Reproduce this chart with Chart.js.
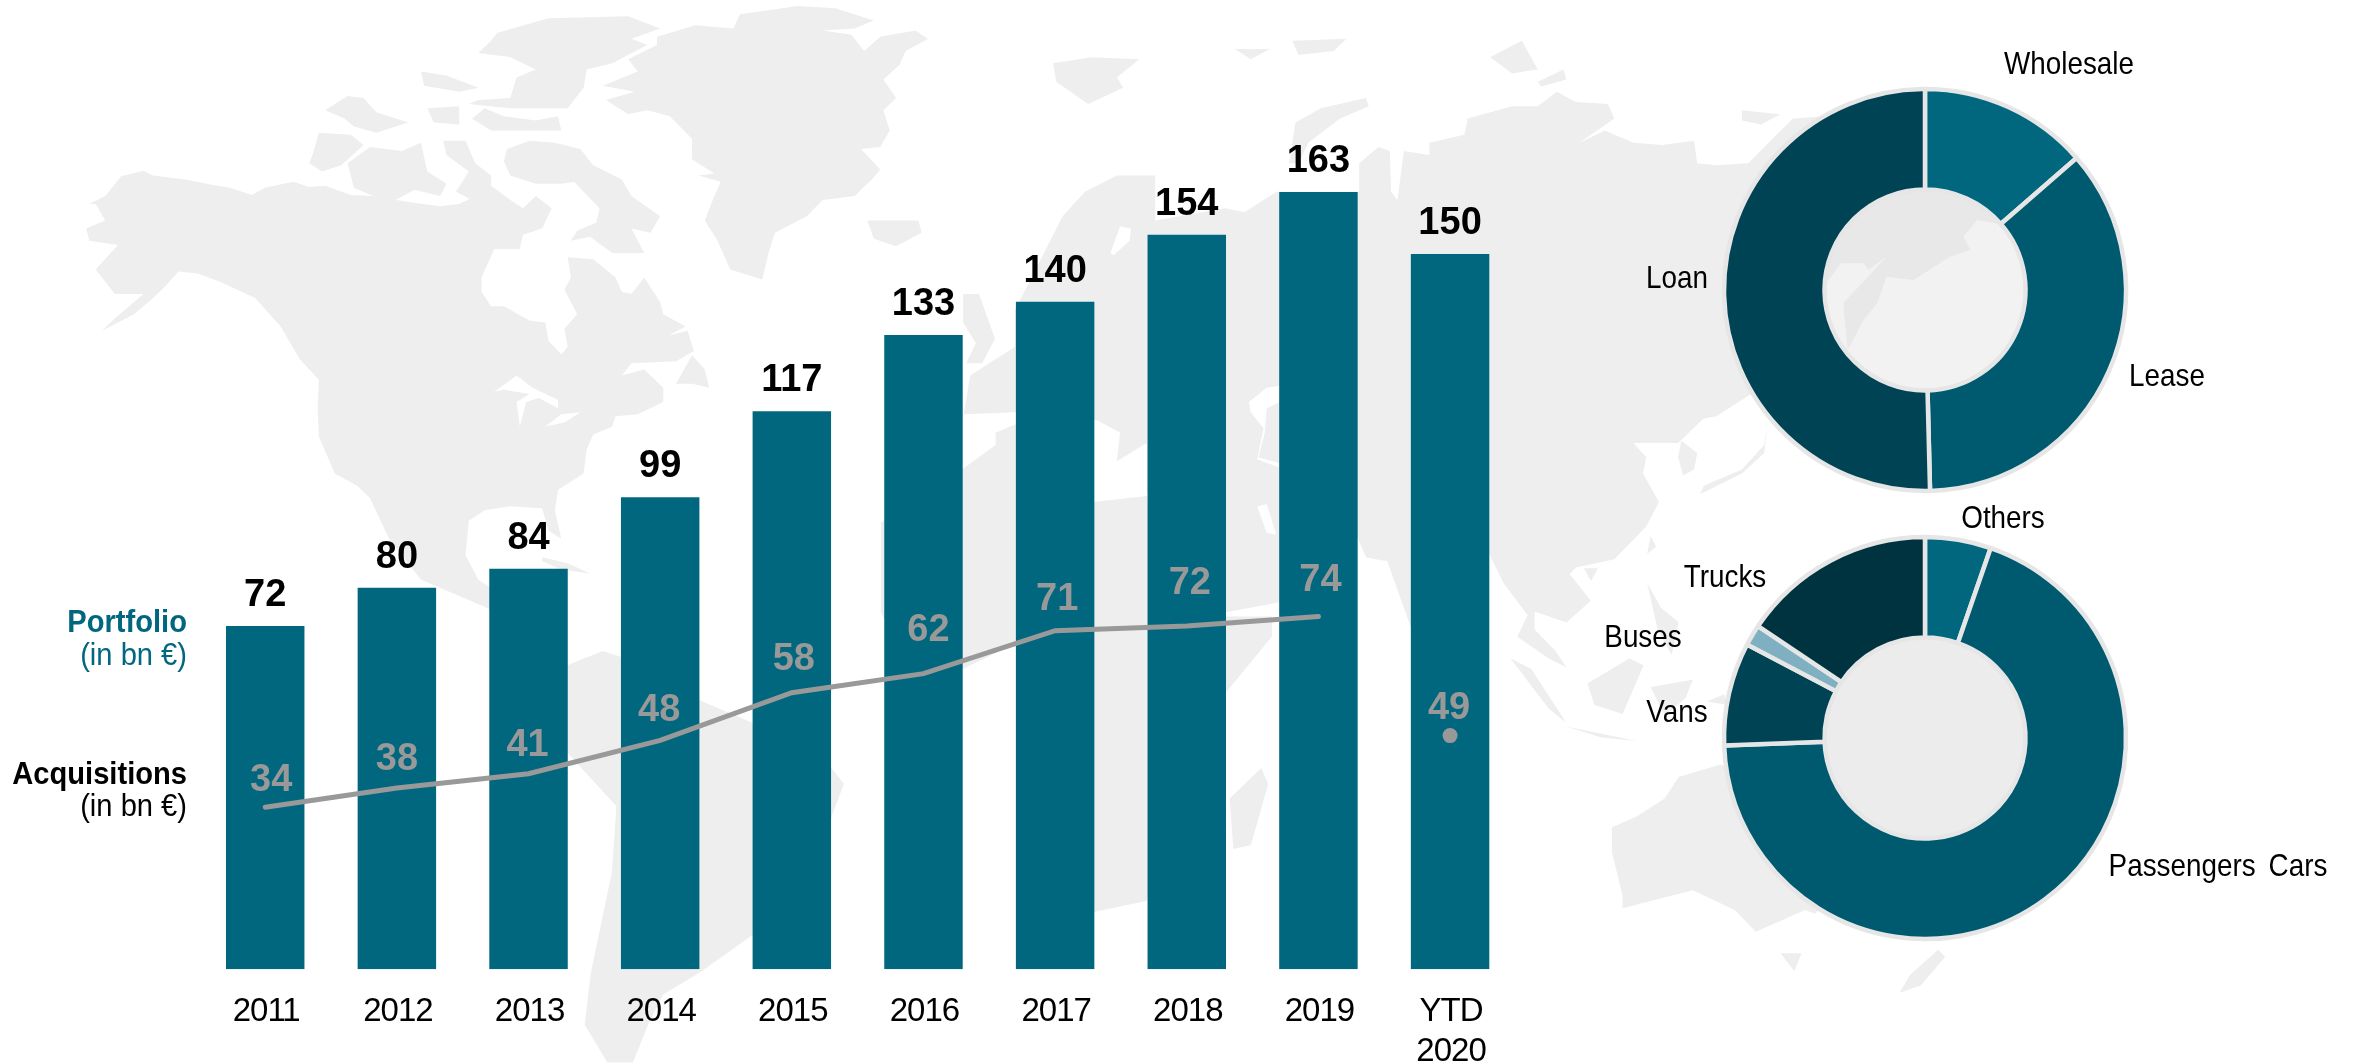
<!DOCTYPE html>
<html>
<head>
<meta charset="utf-8">
<script src="https://cdn.jsdelivr.net/npm/chart.js@4"></script>
<style>
    html, body { margin: 0; background: #fff; }
    body { width: 2363px; height: 1064px; position: relative; overflow: hidden; font-family: "Liberation Sans", sans-serif; }
    canvas, svg { position: absolute; left: 0; top: 0; }
    .txt { position: absolute; font-size: 32px; line-height: 32px; white-space: nowrap; color: #000; transform: translate(-50%, -50%) scaleX(0.87); }
    .right { transform: translate(-100%, -50%) scaleX(0.91); transform-origin: 100% 50%; }
    .b { font-weight: bold; }
    .teal { color: #00677f; }
    .gap { word-spacing: 6px; }
    .land polygon { fill: #eeeeee; }
    .water polygon { fill: #fff; }
</style>
</head>
<body>
<!-- world map behind the chart, only a rough outline -->
<svg width="2363" height="1064">
    <g class="land" transform="scale(0.6378,0.4082)">
        <polygon points="140,500 165,480 190,432 225,418 240,430 290,440 330,452 360,460 395,478 415,460 460,445 485,458 510,455 550,478 585,480 640,495 690,505 720,500 745,480 770,455 800,490 820,510 840,480 865,510 850,560 820,575 815,610 775,610 755,680 755,715 770,750 790,750 830,785 855,790 860,835 880,868 890,850 885,805 905,770 885,710 895,680 890,630 930,635 965,680 975,715 990,720 1010,680 1035,740 1040,770 1075,800 1048,822 1078,810 1088,860 1060,885 990,890 975,920 1010,905 1040,950 1040,985 1000,1015 965,1020 960,1045 930,1065 920,1100 915,1160 875,1200 870,1250 880,1320 860,1300 850,1245 800,1240 760,1250 735,1275 730,1360 750,1420 800,1470 880,1490 880,1568 735,1470 660,1420 610,1320 580,1220 560,1190 525,1160 500,1070 498,1000 500,930 470,880 440,800 400,730 345,690 310,670 280,665 260,700 240,730 210,770 160,810 180,780 225,720 180,720 150,660 185,600 140,590 135,560 165,540 150,500"/>
        <polygon points="795,365 830,345 870,350 910,365 930,405 975,440 990,480 1035,530 1020,570 990,560 1010,620 960,620 925,580 895,590 905,565 935,545 940,510 900,445 880,450 840,450 800,430 790,395"/>
        <polygon points="545,400 580,360 630,370 660,350 670,420 700,450 690,480 650,465 620,490 585,480 555,460"/>
        <polygon points="490,380 500,325 550,330 570,355 535,405 505,420 485,400"/>
        <polygon points="695,345 730,345 745,400 770,430 770,490 740,490 715,470 735,420 700,380"/>
        <polygon points="510,270 545,235 570,240 590,275 640,300 590,325 555,310 540,290"/>
        <polygon points="780,80 860,45 985,40 1035,70 990,95 1015,110 960,155 920,170 915,215 890,265 800,265 735,255 750,245 800,240 810,190 840,170 800,140 750,130 770,100"/>
        <polygon points="740,290 770,320 880,320 875,285 840,295 790,285 760,265"/>
        <polygon points="660,175 700,185 750,215 720,225 665,210"/>
        <polygon points="670,265 720,260 720,305 680,300"/>
        <polygon points="1030,90 1090,62 1150,70 1160,35 1250,15 1310,20 1370,50 1340,70 1290,75 1335,85 1355,125 1380,90 1435,75 1455,95 1420,125 1410,160 1385,195 1405,240 1385,270 1395,320 1380,360 1350,365 1380,415 1370,435 1340,480 1290,490 1265,530 1215,570 1205,620 1195,685 1145,660 1125,590 1105,540 1120,480 1130,445 1095,430 1120,425 1085,390 1085,340 1050,285 1015,270 985,280 950,245 995,225 945,210 1000,175 985,145 1030,110"/>
        <polygon points="1360,540 1440,540 1445,570 1405,603 1370,585"/>
        <polygon points="1060,940 1085,870 1105,905 1112,950 1085,940"/>
        <polygon points="850,1365 890,1380 925,1405 880,1395 850,1375"/>
        <polygon points="1510,720 1535,720 1560,830 1540,890 1515,890 1530,840 1510,790"/>
    </g>
    <g class="water" transform="scale(0.6378,0.4082)">
        <polygon points="775,960 810,920 835,950 875,980 875,1000 845,975 825,985 815,1045 810,985 830,965 790,955"/>
        <polygon points="855,1045 885,1035 910,1010 880,1015"/>
    </g>
    <g class="land" transform="translate(900,0) scale(0.6378,0.4082)">
        <polygon points="100,1015 110,920 150,880 180,850 180,760 255,530 290,470 340,430 400,430 400,540 510,510 540,520 590,470 720,470 720,400 750,360 768,370 770,470 780,490 790,370 830,380 830,350 885,330 890,290 960,260 1000,260 1030,225 1060,250 1110,255 1120,290 1065,350 1105,320 1150,350 1195,355 1245,345 1250,400 1280,405 1330,400 1400,290 1500,280 1440,500 1420,900 1340,960 1280,1020 1260,1025 1220,1085 1150,1085 1170,1120 1165,1160 1190,1230 1170,1290 1120,1370 1060,1390 1050,1406 1083,1472 1045,1525 995,1498 995,1542 1028,1595 1045,1635 1017,1613 968,1560 984,1507 946,1428 924,1357 800,1533 764,1375 731,1366 716,1313 593,1476 511,1500 450,1400 387,1205 387,1085 340,1130 345,1060 310,1030 180,1010"/>
        <polygon points="97,1150 150,1090 150,1060 180,1040 303,1120 303,1230 387,1215 510,1510 583,1510 583,1560 509,1700 386,2207 304,2234 290,2150 230,1800 180,1577 97,1640 0,1600 -30,1500 -30,1280"/>
        <polygon points="240,155 300,140 375,145 340,190 350,215 295,255 245,200"/>
        <polygon points="525,120 580,120 550,145"/>
        <polygon points="615,100 700,95 680,125 625,135"/>
        <polygon points="620,300 660,265 730,240 735,260 690,290 640,350 625,400 610,400"/>
        <polygon points="925,140 975,100 1000,170 960,180"/>
        <polygon points="1000,200 1040,170 1045,195 1005,212"/>
        <polygon points="1320,270 1380,280 1350,305 1320,295"/>
        <polygon points="1360,1040 1355,1090 1320,1150 1260,1190 1255,1210 1320,1160 1355,1110"/>
        <polygon points="1225,1080 1250,1110 1245,1150 1228,1165 1220,1120"/>
    </g>
    <g class="water" transform="translate(900,0) scale(0.6378,0.4082)">
        <polygon points="547,985 575,950 595,945 595,985 575,1000 572,1060 562,1120 595,1135 595,1145 560,1125 570,1050 550,1010"/>
        <polygon points="560,1240 575,1235 590,1310 575,1305"/>
        <polygon points="330,620 345,555 362,560 360,590 335,625"/>
    </g>
    <g class="land" transform="translate(900,500) scale(0.7015,0.3597)">
        <polygon points="1015,910 1050,880 1090,830 1110,770 1170,735 1400,900 1305,1150 1290,1140 1220,1200 1190,1140 1130,1085 1030,1135 1030,1100 1015,980"/>
        <polygon points="1255,1260 1285,1260 1275,1310"/>
        <polygon points="1480,1250 1490,1270 1455,1350 1425,1370 1440,1320"/>
        <polygon points="870,440 900,470 950,620 925,580"/>
        <polygon points="950,630 1050,670 1000,660"/>
        <polygon points="980,510 1040,440 1060,460 1030,595 990,570"/>
        <polygon points="1070,520 1130,500 1120,550 1090,600"/>
        <polygon points="1150,560 1175,540 1180,570"/>
        <polygon points="1065,230 1085,300 1110,340 1100,430 1080,360"/>
        <polygon points="1070,100 1078,130 1065,150"/>
        <polygon points="975,190 995,190 985,225"/>
        <polygon points="470,830 515,745 525,790 500,960 475,970"/>
    </g>
    <g class="land" transform="scale(1.507)">
        <polygon points="370,445 380,440 400,432 425,440 465,465 500,480 548,505 560,520 545,560 515,590 500,620 465,645 440,660 430,680 420,705 403,705 388,680 392,646 406,579 409,535 377,500"/>
    </g>
    <!-- land seen through the hole of the upper ring -->
    <g class="land" transform="translate(1650,20) scale(0.4545,0.3333)">
        <polygon points="380,480 830,480 830,620 780,615 720,600 690,650 705,690 660,710 580,780 520,770 500,850 470,900 435,990 425,850 480,770 520,710 480,750 470,730 420,730 385,795"/>
    </g>
</svg>
<canvas id="bars"></canvas>
<canvas id="ring1" style="left:1704px;top:69px"></canvas>
<canvas id="ring2" style="left:1704px;top:517px"></canvas>
<script>
const years = ["2011", "2012", "2013", "2014", "2015", "2016", "2017", "2018", "2019", ["YTD", "2020"]];
const portfolio = [72, 80, 84, 99, 117, 133, 140, 154, 163, 150];
const acquisitions = [34, 38, 41, 48, 58, 62, 71, 72, 74, 49];

const contractNames = ["Wholesale", "Lease", "Loan"];
const contractShares = [13.6, 36, 50.4];
const contractColors = ["#00677f", "#005a6f", "#004355"];

const vehicleNames = ["Others", "Passengers Cars", "Vans", "Buses", "Trucks"];
const vehicleShares = [5.3, 69.1, 8.3, 1.7, 15.6];
const vehicleColors = ["#00677f", "#005a6f", "#004355", "#7fb0c2", "#003340"];

const font = '"Liberation Sans", sans-serif';

// the grey numbers do not sit at one fixed distance from the line
const greyShiftX = [6, 0, -1, -1, 2, 5, 2, 3, 2, -1];
const greyLift = [16.5, 18, 18, 19.5, 22.5, 33, 21, 31.5, 25.5, 16.5];

// value labels above the bars and the grey ones above the line
const valueLabels = {
    id: "valueLabels",
    beforeDraw(chart) {
        chart.ctx.letterSpacing = "-1px";
    },
    afterDraw(chart) {
        const ctx = chart.ctx;
        ctx.save();
        ctx.letterSpacing = "0px";
        ctx.textAlign = "center";
        ctx.textBaseline = "alphabetic";
        ctx.font = "bold 38px " + font;
        ctx.fillStyle = "#000";
        chart.getDatasetMeta(1).data.forEach((bar, i) => {
            ctx.fillText(portfolio[i], bar.x, bar.y - 20);
        });
        ctx.fillStyle = "#999";
        chart.getDatasetMeta(0).data.forEach((pt, i) => {
            ctx.fillText(acquisitions[i], pt.x + greyShiftX[i], pt.y - greyLift[i]);
        });
        ctx.restore();
    }
};

const bars = document.getElementById("bars");
bars.width = 1600;
bars.height = 1064;
new Chart(bars, {
    type: "bar",
    data: {
        labels: years,
        datasets: [{
            type: "line",
            data: acquisitions,
            borderColor: "#999",
            borderWidth: 5,
            borderCapStyle: "round",
            tension: 0,
            pointRadius: ctx => ctx.dataIndex === 9 ? 7.5 : 0,
            pointBackgroundColor: "#999",
            pointBorderWidth: 0,
            segment: { borderColor: ctx => ctx.p1DataIndex === 9 ? "transparent" : "#999" },
            order: 0
        }, {
            data: portfolio,
            backgroundColor: "#00677f",
            barPercentage: 0.596,
            categoryPercentage: 1,
            order: 1
        }]
    },
    options: {
        responsive: false,
        animation: false,
        layout: { padding: { left: 199.4, right: 84.1, top: 15.5 } },
        plugins: { legend: { display: false }, tooltip: { enabled: false } },
        scales: {
            x: {
                grid: { display: false },
                border: { display: false },
                afterFit: s => { s.height = 94.7; },
                ticks: { color: "#000", font: { size: 33, family: font, lineHeight: 1.2 }, maxRotation: 0, padding: 15, labelOffset: 1, autoSkip: false }
            },
            y: { display: false, min: 0, max: 200 }
        }
    },
    plugins: [valueLabels]
});

// fills the hole of a ring
function holePlugin(color) {
    return {
        id: "hole",
        beforeDatasetsDraw(chart) {
            const arc = chart.getDatasetMeta(0).data[0];
            const ctx = chart.ctx;
            ctx.save();
            ctx.fillStyle = color;
            ctx.beginPath();
            ctx.arc(arc.x, arc.y, arc.innerRadius, 0, Math.PI * 2);
            ctx.fill();
            ctx.restore();
        }
    };
}

function createRing(id, names, shares, colors, hole) {
    const canvas = document.getElementById(id);
    canvas.width = 442;
    canvas.height = 442;
    new Chart(canvas, {
        type: "doughnut",
        data: {
            labels: names,
            datasets: [{ data: shares, backgroundColor: colors, borderColor: "#e6e6e6", borderWidth: 4.5 }]
        },
        options: {
            responsive: false,
            animation: false,
            radius: 201,
            cutout: "50%",
            plugins: { legend: { display: false }, tooltip: { enabled: false } }
        },
        plugins: [holePlugin(hole)]
    });
}
createRing("ring1", contractNames, contractShares, contractColors, "rgba(224,224,224,0.42)");
createRing("ring2", vehicleNames, vehicleShares, vehicleColors, "#ececec");

// text around the chart
const notes = [
    ["Portfolio", 187, 621, "right b teal"], ["(in bn €)", 187, 654, "right teal"],
    ["Acquisitions", 187, 773, "right b"], ["(in bn €)", 187, 805, "right"],
    ["Wholesale", 2069, 63, ""], ["Lease", 2167, 375, ""], ["Loan", 1677, 277, ""],
    ["Others", 2003, 517, ""], ["Trucks", 1725, 576, ""], ["Buses", 1643, 636, ""],
    ["Vans", 1677, 711, ""], ["Passengers Cars", 2218, 865, "gap"]
];
notes.forEach(n => {
    const d = document.createElement("div");
    d.className = "txt " + n[3];
    d.textContent = n[0];
    d.style.left = n[1] + "px";
    d.style.top = n[2] + "px";
    document.body.appendChild(d);
});
</script>
</body>
</html>
